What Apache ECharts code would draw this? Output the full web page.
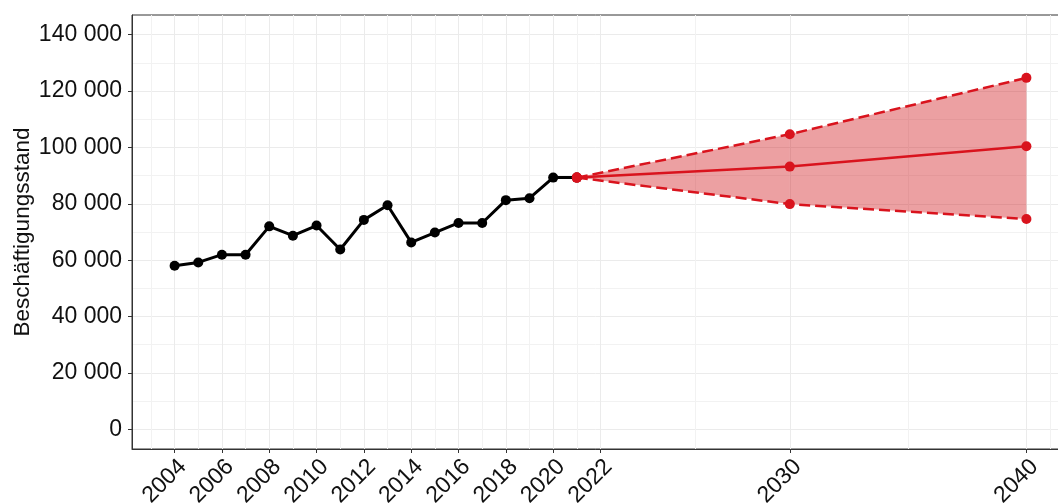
<!DOCTYPE html>
<html>
<head>
<meta charset="utf-8">
<script src="https://cdn.jsdelivr.net/npm/echarts@6/dist/echarts.min.js"></script>
<style>
  html, body { margin: 0; padding: 0; background: #fff; }
  #chart { width: 1058px; height: 504px; }
</style>
</head>
<body>
<div id="chart"></div>
<script>
// observed employment
const years = [2004, 2005, 2006, 2007, 2008, 2009, 2010, 2011, 2012, 2013, 2014, 2015, 2016, 2017, 2018, 2019, 2020, 2021];
const employment = [58050, 59200, 61950, 61950, 72000, 68700, 72300, 63800, 74300, 79500, 66300, 69800, 73200, 73200, 81300, 82000, 89300, 89300];

// forecast with band
const forecastYears = [2021, 2030, 2040];
const forecastMid = [89300, 93200, 100400];
const forecastUpper = [89300, 104700, 124700];
const forecastLower = [89300, 79900, 74600];

// axis breaks
const xTicks = [2004, 2006, 2008, 2010, 2012, 2014, 2016, 2018, 2020, 2022, 2030, 2040];
const xMinor = [2003, 2005, 2007, 2009, 2011, 2013, 2015, 2017, 2019, 2021, 2026, 2035, 2041];
const yTicks = [0, 20000, 40000, 60000, 80000, 100000, 120000, 140000];
const yMinor = [10000, 30000, 50000, 70000, 90000, 110000, 130000];

const RED = "#d9131d";
const BAND = "#d01217";
const FONT = "Liberation Sans, Arial, sans-serif";

const pairs = (xs, ys) => xs.map((x, i) => [x, ys[i]]);
const fmt = v => String(v).replace(/\B(?=(\d{3})+(?!\d))/g, " ");

const chart = echarts.init(document.getElementById("chart"), null, { renderer: "canvas" });

// ribbon between lower and upper, one quad per forecast segment
function renderBand(params, api) {
  const i = params.dataIndex;
  if (i >= forecastYears.length - 1) return;
  const pts = [
    api.coord([forecastYears[i], forecastUpper[i]]),
    api.coord([forecastYears[i + 1], forecastUpper[i + 1]]),
    api.coord([forecastYears[i + 1], forecastLower[i + 1]]),
    api.coord([forecastYears[i], forecastLower[i]])
  ];
  return {
    type: "polygon",
    shape: { points: pts },
    style: { fill: BAND, opacity: 0.4, stroke: null }
  };
}

chart.setOption({
  animation: false,
  textStyle: { fontFamily: FONT },
  grid: {
    left: 132,
    top: 15,
    bottom: 55,
    right: -11,
    outerBoundsMode: "none",
    containLabel: false,
    show: true,
    borderColor: "#333",
    borderWidth: 1,
    backgroundColor: "#fff"
  },
  xAxis: [
    {
      type: "value",
      min: 2002.2,
      max: 2041.8,
      axisLine: { show: true, onZero: false, lineStyle: { color: "#333" } },
      axisTick: { show: true, length: 4, customValues: xTicks, lineStyle: { color: "#333" } },
      axisLabel: {
        customValues: xTicks,
        rotate: 45,
        margin: 6,
        align: "right",
        verticalAlign: "top",
        color: "#111",
        fontSize: 23,
        fontFamily: FONT,
        formatter: v => String(v)
      },
      splitLine: { show: true, lineStyle: { color: "#ebebeb", width: 1 } }
    },
    {
      type: "value",
      min: 2002.2,
      max: 2041.8,
      axisLine: { show: false },
      axisTick: { show: false, customValues: xMinor },
      axisLabel: { show: false, customValues: xMinor },
      splitLine: { show: true, lineStyle: { color: "#f2f2f2", width: 1 } }
    }
  ],
  yAxis: [
    {
      type: "value",
      min: -7000,
      max: 147000,
      name: "Beschäftigungsstand",
      nameLocation: "middle",
      nameGap: 98,
      nameMoveOverlap: false,
      nameTextStyle: { fontSize: 22.5, color: "#111", fontFamily: FONT },
      axisLine: { show: true, onZero: false, lineStyle: { color: "#333" } },
      axisTick: { show: true, length: 4, customValues: yTicks, lineStyle: { color: "#333" } },
      axisLabel: {
        customValues: yTicks,
        margin: 10,
        color: "#111",
        fontSize: 23,
        fontFamily: FONT,
        formatter: fmt
      },
      splitLine: { show: true, lineStyle: { color: "#ebebeb", width: 1 } }
    },
    {
      type: "value",
      min: -7000,
      max: 147000,
      axisLine: { show: false },
      axisTick: { show: false, customValues: yMinor },
      axisLabel: { show: false, customValues: yMinor },
      splitLine: { show: true, lineStyle: { color: "#f2f2f2", width: 1 } }
    }
  ],
  series: [
    {
      name: "band",
      type: "custom",
      renderItem: renderBand,
      data: forecastYears.map((y, i) => [y, forecastLower[i], forecastUpper[i]]),
      encode: { x: 0, y: [1, 2] },
      silent: true,
      z: 1
    },
    {
      name: "history",
      type: "line",
      data: pairs(years, employment),
      symbol: "circle",
      symbolSize: 10,
      itemStyle: { color: "#000" },
      lineStyle: { color: "#000", width: 3 },
      z: 3
    },
    {
      name: "upper",
      type: "line",
      data: pairs(forecastYears, forecastUpper),
      symbol: "circle",
      symbolSize: 10,
      itemStyle: { color: RED },
      lineStyle: { color: RED, width: 2.5, type: [11, 5] },
      z: 4
    },
    {
      name: "lower",
      type: "line",
      data: pairs(forecastYears, forecastLower),
      symbol: "circle",
      symbolSize: 10,
      itemStyle: { color: RED },
      lineStyle: { color: RED, width: 2.5, type: [11, 5] },
      z: 4
    },
    {
      name: "mid",
      type: "line",
      data: pairs(forecastYears, forecastMid),
      symbol: "circle",
      symbolSize: 10,
      itemStyle: { color: RED },
      lineStyle: { color: RED, width: 2.5 },
      z: 5
    }
  ]
});
</script>
</body>
</html>
